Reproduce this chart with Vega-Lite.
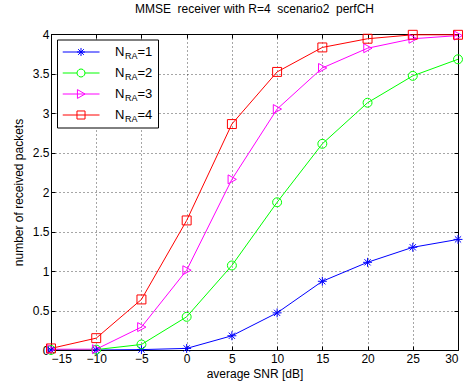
{
  "$schema": "https://vega.github.io/schema/vega-lite/v6.json",
  "width": 407,
  "height": 316,
  "autosize": {"type": "none"},
  "padding": {"left": 51, "top": 34, "right": 6, "bottom": 37},
  "background": "white",
  "title": {"text": "MMSE\u00a0 receiver with R=4\u00a0 scenario2\u00a0 perfCH", "fontSize": 12, "fontWeight": "normal", "font": "Liberation Sans", "color": "black", "offset": 12, "anchor": "middle"},
  "config": {
    "font": "Liberation Sans",
    "view": {"stroke": "black", "strokeWidth": 1},
    "axis": {"domainColor": "black", "tickColor": "black", "labelColor": "black", "titleColor": "black", "labelFontSize": 12, "titleFontSize": 12, "titleFontWeight": "normal", "gridColor": "black", "gridDash": [1, 3], "gridOpacity": 0.7, "labelFont": "Liberation Sans", "titleFont": "Liberation Sans"}
  },
  "data": {"values": [
    {"snr": -15, "N": "1", "packets": 0.0}, {"snr": -10, "N": "1", "packets": 0.0}, {"snr": -5, "N": "1", "packets": 0.005}, {"snr": 0, "N": "1", "packets": 0.02}, {"snr": 5, "N": "1", "packets": 0.18}, {"snr": 10, "N": "1", "packets": 0.47}, {"snr": 15, "N": "1", "packets": 0.87}, {"snr": 20, "N": "1", "packets": 1.11}, {"snr": 25, "N": "1", "packets": 1.3}, {"snr": 30, "N": "1", "packets": 1.4},
    {"snr": -15, "N": "2", "packets": 0.0}, {"snr": -10, "N": "2", "packets": 0.005}, {"snr": -5, "N": "2", "packets": 0.07}, {"snr": 0, "N": "2", "packets": 0.42}, {"snr": 5, "N": "2", "packets": 1.07}, {"snr": 10, "N": "2", "packets": 1.87}, {"snr": 15, "N": "2", "packets": 2.61}, {"snr": 20, "N": "2", "packets": 3.13}, {"snr": 25, "N": "2", "packets": 3.47}, {"snr": 30, "N": "2", "packets": 3.68},
    {"snr": -15, "N": "3", "packets": 0.01}, {"snr": -10, "N": "3", "packets": 0.01}, {"snr": -5, "N": "3", "packets": 0.29}, {"snr": 0, "N": "3", "packets": 1.01}, {"snr": 5, "N": "3", "packets": 2.16}, {"snr": 10, "N": "3", "packets": 3.05}, {"snr": 15, "N": "3", "packets": 3.57}, {"snr": 20, "N": "3", "packets": 3.82}, {"snr": 25, "N": "3", "packets": 3.94}, {"snr": 30, "N": "3", "packets": 3.98},
    {"snr": -15, "N": "4", "packets": 0.02}, {"snr": -10, "N": "4", "packets": 0.15}, {"snr": -5, "N": "4", "packets": 0.64}, {"snr": 0, "N": "4", "packets": 1.64}, {"snr": 5, "N": "4", "packets": 2.86}, {"snr": 10, "N": "4", "packets": 3.52}, {"snr": 15, "N": "4", "packets": 3.83}, {"snr": 20, "N": "4", "packets": 3.94}, {"snr": 25, "N": "4", "packets": 3.99}, {"snr": 30, "N": "4", "packets": 3.99}
  ]},
  "layer": [
    {
      "mark": {"type": "line", "strokeWidth": 1, "clip": true},
      "encoding": {
        "x": {"field": "snr", "type": "quantitative", "scale": {"domain": [-15, 30], "nice": false, "zero": false},
              "axis": {"orient": "bottom", "values": [-15, -10, -5, 0, 5, 10, 15, 20, 25, 30], "title": "average SNR [dB]", "grid": true, "tickSize": -4, "labelPadding": 7, "titlePadding": 4, "format": "d"}},
        "y": {"field": "packets", "type": "quantitative", "scale": {"domain": [0, 4], "nice": false},
              "axis": {"orient": "left", "values": [0, 0.5, 1, 1.5, 2, 2.5, 3, 3.5, 4], "format": "~g", "title": "number of received packets", "grid": true, "tickSize": -4, "labelPadding": 6, "titlePadding": 7}},
        "color": {"field": "N", "type": "nominal", "scale": {"range": ["#0000ff", "#00ff00", "#ff00ff", "#ff0000"]},
                  "legend": {"orient": "none", "legendX": 6, "legendY": 5.5, "title": null, "direction": "vertical", "strokeColor": "black", "fillColor": "white", "padding": 5.5, "rowPadding": 7, "clipHeight": 14, "symbolSize": 169, "symbolStrokeWidth": 1, "symbolOffset": 11.5, "labelFontSize": 13, "labelOffset": 27, "labelColor": "black", "labelFont": "Liberation Sans",
                             "labelExpr": "'N\u2002\u2002=' + datum.label",
                             "encode": {"symbols": {"update": {"shape": {"signal": "datum.value == '1' ? 'M-2.85,0H2.85M-0.62,0H0.62M0,-0.62V0.62M-0.44,-0.44L0.44,0.44M-0.44,0.44L0.44,-0.44' : datum.value == '2' ? 'M-2.85,0H-0.62M0.62,0H2.85M0.62,0L0.537,0.31L0.31,0.537L0,0.62L-0.31,0.537L-0.537,0.31L-0.62,0L-0.537,-0.31L-0.31,-0.537L0,-0.62L0.31,-0.537L0.537,-0.31Z' : datum.value == '3' ? 'M-2.85,0H2.85M-0.55,-0.68L0.62,0L-0.55,0.68Z' : 'M-2.85,0H2.85M-0.62,-0.62H0.62V0.62H-0.62Z'"}, "fill": {"value": "transparent"}, "strokeWidth": {"value": 1}}}}}}
      }
    },
    {
      "mark": {"type": "point", "filled": false, "strokeWidth": 1, "opacity": 1, "clip": false},
      "encoding": {
        "x": {"field": "snr", "type": "quantitative", "axis": null},
        "y": {"field": "packets", "type": "quantitative", "axis": null},
        "color": {"field": "N", "type": "nominal"},
        "shape": {"field": "N", "type": "nominal", "legend": null, "scale": {"range": ["M-1,0H1M0,-1V1M-0.7,-0.7L0.7,0.7M-0.7,0.7L0.7,-0.7", "circle", "M-0.85,-1L1,0L-0.85,1Z", "M-1,-1H1V1H-1Z"]}},
        "size": {"value": 80},
        "opacity": {"field": "N", "type": "ordinal", "scale": {"domain": ["1", "2", "3", "4"], "range": [1, 1, 1, 1]},
                    "legend": {"orient": "none", "legendX": 6, "legendY": 9.8, "title": null, "direction": "vertical", "padding": 5.5, "rowPadding": 7, "clipHeight": 14, "symbolSize": 169, "symbolType": "M-2.85,0H2.85", "symbolStrokeWidth": 1, "symbolStrokeColor": "transparent", "symbolFillColor": "transparent", "symbolOpacity": 0, "symbolOffset": 11.5, "labelFontSize": 9, "labelOffset": 37, "labelExpr": "'RA'", "labelColor": "black", "labelFont": "Liberation Sans"}}
      }
    },
    {
      "mark": {"type": "point", "opacity": 0},
      "encoding": {
        "x": {"field": "snr", "type": "quantitative", "axis": {"orient": "top", "values": [-15, -10, -5, 0, 5, 10, 15, 20, 25, 30], "labels": false, "title": null, "grid": false, "tickSize": -4, "domain": false}},
        "y": {"field": "packets", "type": "quantitative", "axis": {"orient": "right", "values": [0, 0.5, 1, 1.5, 2, 2.5, 3, 3.5, 4], "labels": false, "title": null, "grid": false, "tickSize": -4, "domain": false}}
      }
    }
  ]
}
